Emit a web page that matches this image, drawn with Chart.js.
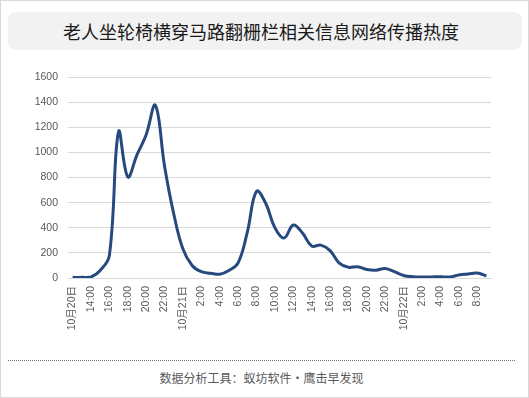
<!DOCTYPE html>
<html>
<head>
<meta charset="utf-8">
<script src="https://cdn.jsdelivr.net/npm/chart.js@4"></script>
<style>
  html, body { margin: 0; padding: 0; background: #fff; }
  #page { position: relative; width: 527px; height: 396px; border: 1px solid #d9d9d9; overflow: hidden; font-family: "Noto Sans CJK SC", sans-serif; }
  #title { position: absolute; left: 7px; top: 11px; width: 514px; height: 38px; background: #f2f2f2; border-radius: 8px;
           line-height: 38px; text-align: center; font-size: 18px; color: #1a1a1a; }
  #title span { position: relative; left: -4px; }
  #wrap { position: absolute; left: -1px; top: 59px; width: 529px; height: 290px; }
  #sep { position: absolute; left: 7px; top: 359px; width: 507px; border-top: 1px dotted #777; }
  #foot { position: absolute; left: 7px; top: 368px; width: 507px; text-align: center; font-size: 12px; color: #595959; line-height: 18px; }
</style>
</head>
<body>
<div id="page">
  <div id="title"><span>老人坐轮椅横穿马路翻栅栏相关信息网络传播热度</span></div>
  <div id="wrap"><canvas id="c" width="529" height="290"></canvas></div>
  <div id="sep"></div>
  <div id="foot">数据分析工具：蚁坊软件·鹰击早发现</div>
</div>
<script>
const categories = [
  '10月20日','13:00','14:00','15:00','16:00','17:00','18:00','19:00','20:00','21:00','22:00','23:00',
  '10月21日','1:00','2:00','3:00','4:00','5:00','6:00','7:00','8:00','9:00','10:00','11:00',
  '12:00','13:00','14:00','15:00','16:00','17:00','18:00','19:00','20:00','21:00','22:00','23:00',
  '10月22日','1:00','2:00','3:00','4:00','5:00','6:00','7:00','8:00','9:00'
];
const heatValues = [
  5, 5, 8, 60, 180, 1165, 805, 980, 1140, 1375, 890, 510,
  230, 100, 50, 38, 30, 60, 120, 365, 690, 595, 400, 318,
  422, 358, 255, 262, 218, 118, 85, 90, 68, 62, 76, 50,
  20, 10, 8, 8, 10, 8, 24, 32, 40, 16
];
const yTicks = [0, 200, 400, 600, 800, 1000, 1200, 1400, 1600];

const tickFont = { family: '"Liberation Sans", "Noto Sans CJK SC", sans-serif', size: 10.5 };

new Chart(document.getElementById('c'), {
  type: 'line',
  data: {
    labels: categories,
    datasets: [{
      data: heatValues,
      borderColor: '#264a7e',
      borderWidth: 3,
      pointRadius: 0,
      pointHoverRadius: 0,
      tension: 0.4,
      fill: false
    }]
  },
  options: {
    responsive: false,
    animation: false,
    events: [],
    layout: { padding: { left: 0, right: 38, top: 17, bottom: 0 } },
    plugins: { legend: { display: false }, tooltip: { enabled: false }, title: { display: false } },
    scales: {
      x: {
        type: 'category',
        offset: true,
        grid: { display: false, drawTicks: false },
        border: { display: true, color: '#d9d9d9', width: 1 },
        ticks: {
          autoSkip: false, minRotation: 90, maxRotation: 90, padding: 8,
          color: '#595959', font: tickFont,
          callback: (v, i) => (i % 2 === 0 ? categories[i] : '')
        },
        afterFit: s => { s.height = 72; }
      },
      y: {
        min: 0, max: 1600,
        afterBuildTicks: s => { s.ticks = yTicks.map(v => ({ value: v })); },
        grid: { color: '#d9d9d9', lineWidth: 1, drawTicks: false },
        border: { display: false },
        ticks: { padding: 10, color: '#595959', font: tickFont, callback: v => String(v) },
        afterFit: s => { s.width = 68; }
      }
    }
  }
});
</script>
</body>
</html>
